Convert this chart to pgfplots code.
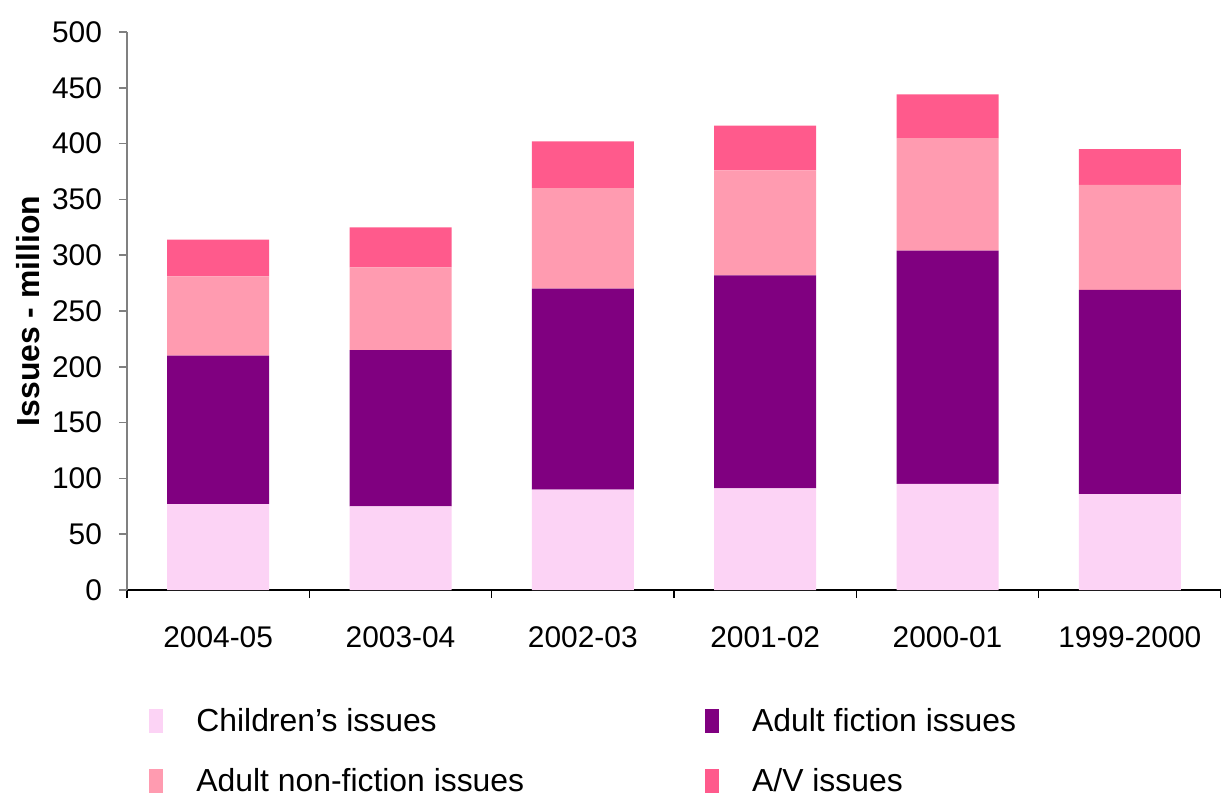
\documentclass[border=0pt]{standalone}
\usepackage{pgfplots}
\pgfplotsset{compat=1.18}
\usepackage{pgfplotstable}
\usepackage{fontspec}
\setmainfont{Liberation Sans}

\definecolor{childcol}{HTML}{FCD3F5}
\definecolor{fictcol}{HTML}{800080}
\definecolor{nonfcol}{HTML}{FF9BB0}
\definecolor{avcol}{HTML}{FF5A8C}

% issues in millions
\pgfplotstableread{
x children fiction nonfiction av
0 77 133 71 33
1 75 140 74 36
2 90 180 90 42
3 91 191 94 40
4 95 209 101 39
5 86 183 94 32
}\issues

\begin{document}
\begin{tikzpicture}
\begin{axis}[
	width=547bp, height=279bp,
	scale only axis,
	ybar stacked,
	bar width=51bp,
	xmin=-0.5, xmax=5.5,
	ymin=0, ymax=500,
	ytick={0,50,...,500},
	xtick={-0.5,0.5,...,5.5},
	xticklabels={2004-05,2003-04,2002-03,2001-02,2000-01,1999-2000},
	x tick label as interval,
	axis x line=bottom,
	axis y line=left,
	axis line style={-},
	x axis line style={black, line width=0.9pt},
	y axis line style={gray, line width=0.9pt},
	tick align=outside,
	major tick length=4bp,
	xtick style={black, line width=0.8pt},
	ytick style={gray, line width=0.8pt},
	tick label style={font=\fontsize{15}{18}\selectfont},
	/pgf/number format/assume math mode=true,
	yticklabel style={xshift=-5bp},
	xticklabel style={yshift=-11bp},
	ylabel={Issues - million},
	every axis y label/.style={at={([xshift=-49.5bp]axis description cs:0,0.5)}, rotate=90, anchor=center,
		font=\fontsize{16}{19}\selectfont\bfseries},
	legend columns=2,
	legend cell align=left,
	legend style={
		at={([xshift=8bp, yshift=-55bp]axis description cs:0,0)},
		anchor=north west,
		draw=none,
		font=\fontsize{16}{19}\selectfont,
		row sep=13bp,
		/tikz/every even column/.append style={column sep=88.5bp},
	},
	legend image code/.code={
		\fill[#1, draw=none] (0bp,-6bp) rectangle (7bp,6bp);
		\path[draw=none, fill=none] (7bp,0bp) -- (21.5bp,0bp);
	},
]
\addplot[fill=childcol, draw=none] table[x=x, y=children] {\issues};
\addplot[fill=fictcol, draw=none] table[x=x, y=fiction] {\issues};
\addplot[fill=nonfcol, draw=none] table[x=x, y=nonfiction] {\issues};
\addplot[fill=avcol, draw=none] table[x=x, y=av] {\issues};
\legend{Children’s issues, Adult fiction issues, Adult non-fiction issues, A/V issues}
\end{axis}
\pgfresetboundingbox
\path[use as bounding box] (-63.5bp,-104.5bp) rectangle (547bp,295bp);
\end{tikzpicture}
\end{document}
